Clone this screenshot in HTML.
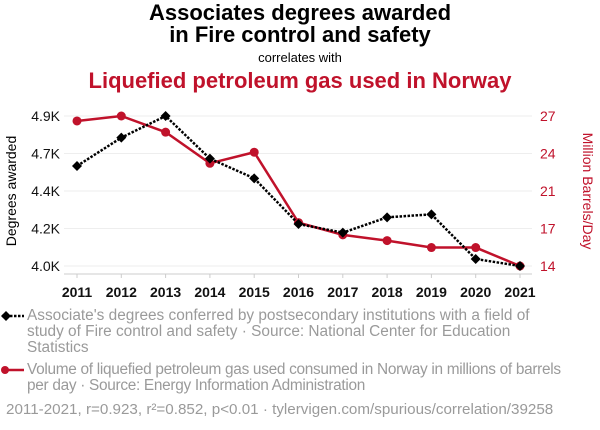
<!DOCTYPE html>
<html><head><meta charset="utf-8"><style>
body{margin:0;background:#fff;font-family:"Liberation Sans",sans-serif;}
#wrap{position:relative;width:600px;height:430px;overflow:hidden}
.t{position:absolute;left:0;width:600px;text-align:center;font-weight:bold}
.leg{position:absolute;left:27px;font-size:15.4px;color:#9a9a9a;line-height:16px;white-space:nowrap}
</style></head><body>
<div id="wrap">
<div class="t" style="top:2px;font-size:22px;line-height:22px;color:#000">Associates degrees awarded<br>in Fire control and safety</div>
<div class="t" style="top:50px;font-size:13px;font-weight:normal;color:#000">correlates with</div>
<div class="t" style="top:68px;font-size:22px;color:#c0122b">Liquefied petroleum gas used in Norway</div>
<svg id="svg" width="600" height="430" style="position:absolute;left:0;top:0"></svg>
<div class="leg" style="top:308px">Associate's degrees conferred by postsecondary institutions with a field of<br>study of Fire control and safety · Source: National Center for Education<br>Statistics</div>
<div class="leg" style="top:362px;letter-spacing:-0.3px">Volume of liquefied petroleum gas used consumed in Norway in millions of barrels<br>per day · Source: Energy Information Administration</div>
<div class="leg" style="left:6px;top:402px;font-size:15.2px">2011-2021, r=0.923, r²=0.852, p&lt;0.01 · tylervigen.com/spurious/correlation/39258</div>
</div>
<script>
const years=[2011,2012,2013,2014,2015,2016,2017,2018,2019,2020,2021];
const degrees=[4600,4770,4900,4644,4526,4252,4200,4292,4310,4042,4000];
const lpg=[26.57,27,25.6,22.9,23.86,17.76,16.7,16.2,15.6,15.6,14];
const leftTicks=[4000,4225,4450,4675,4900];
const leftLabels=["4.0K","4.2K","4.4K","4.7K","4.9K"];
const rightTicks=[14,17.25,20.5,23.75,27];
const rightLabels=["14","17","21","24","27"];
const NS="http://www.w3.org/2000/svg",svg=document.getElementById('svg');
const x=i=>77+(520-77)*(i)/(years.length-1);
const yL=v=>266-(v-4000)/900*150;
const yR=v=>266-(v-14)/13*150;
function mk(t,a){const e=document.createElementNS(NS,t);for(const k in a)e.setAttribute(k,a[k]);svg.appendChild(e);return e;}
leftTicks.forEach((v,i)=>{
 const g=mk('line',{x1:64,x2:532,y1:yL(v),y2:yL(v),stroke:'#eee'});
 
 
 const t=mk('text',{x:60,y:yL(v)+5,'text-anchor':'end','font-size':14,fill:'#111'});t.textContent=leftLabels[i];
 
 
});
rightTicks.forEach((v,i)=>{
 const t=mk('text',{x:540,y:yR(v)+5,'font-size':14,fill:'#c0122b'});t.textContent=rightLabels[i];
 
 
});
const ax=mk('line',{x1:64,x2:532,y1:274,y2:274,stroke:'#ccc'});


years.forEach((yv,i)=>{
 mk('line',{x1:x(i),x2:x(i),y1:274,y2:278,stroke:'#ccc'});
 const t=mk('text',{x:x(i),y:297,'text-anchor':'middle','font-size':14,'font-weight':'bold',fill:'#111'});t.textContent=yv;
 
 
});
let yt=mk('text',{x:0,y:0,transform:'translate(16,191) rotate(-90)','text-anchor':'middle','font-size':14,fill:'#000'});yt.textContent='Degrees awarded';


let yr=mk('text',{x:0,y:0,transform:'translate(583,191) rotate(90)','text-anchor':'middle','font-size':14,fill:'#c0122b'});yr.textContent='Million Barrels/Day';


const lp=mk('polyline',{points:lpg.map((v,i)=>x(i)+','+yR(v)).join(' '),fill:'none',stroke:'#c0122b','stroke-width':2.5});


lpg.forEach((v,i)=>{const c=mk('circle',{cx:x(i),cy:yR(v),r:4.5,fill:'#c0122b'});
 
 });
const dl=mk('polyline',{points:degrees.map((v,i)=>x(i)+','+yL(v)).join(' '),fill:'none',stroke:'#000','stroke-width':2.5,'stroke-dasharray':'2.5,1.5'});


degrees.forEach((v,i)=>{const cx=x(i),cy=yL(v);const d=mk('polygon',{points:`${cx},${cy-5} ${cx+5},${cy} ${cx},${cy+5} ${cx-5},${cy}`,fill:'#000'});
 
 });
mk('line',{x1:2,x2:24,y1:316,y2:316,stroke:'#000','stroke-width':2.5,'stroke-dasharray':'2.5,1.5'});
mk('polygon',{points:'6,311 11,316 6,321 1,316',fill:'#000'});
mk('line',{x1:2,x2:24,y1:370,y2:370,stroke:'#c0122b','stroke-width':2.5});
mk('circle',{cx:5,cy:370,r:4,fill:'#c0122b'});
</script>
</body></html>
